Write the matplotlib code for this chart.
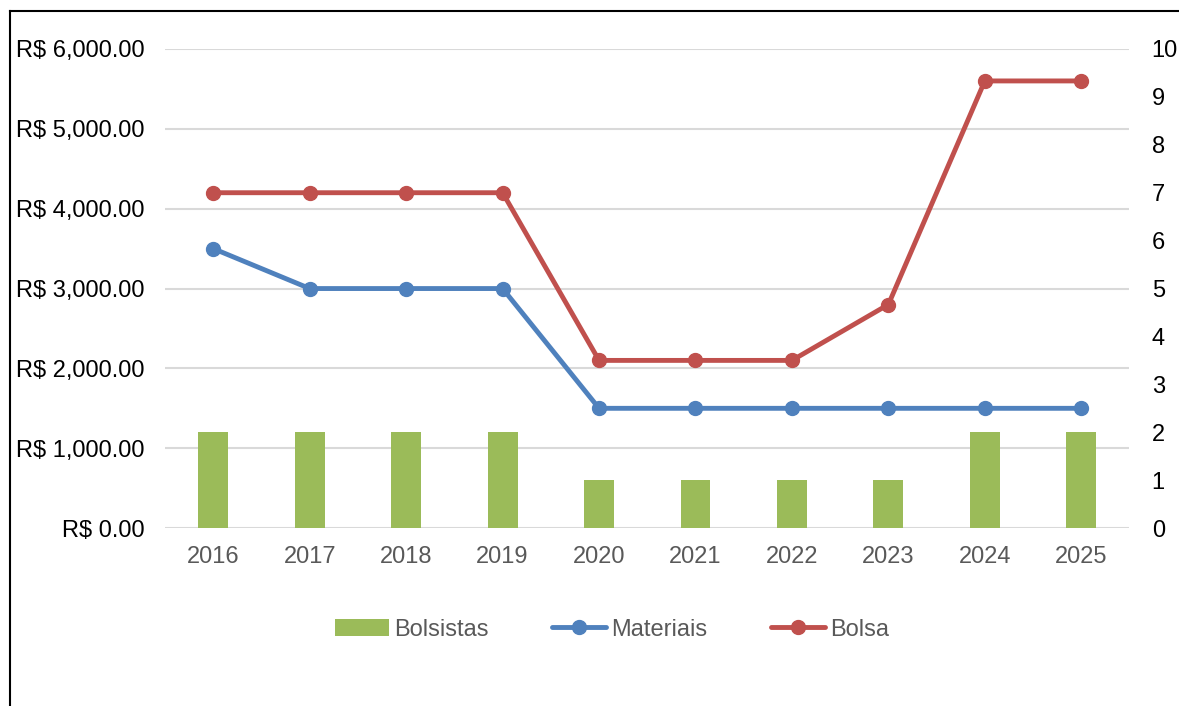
import matplotlib.pyplot as plt
from matplotlib.lines import Line2D
from matplotlib.ticker import FuncFormatter
import numpy as np

plt.rcParams['font.family'] = ['Liberation Sans', 'DejaVu Sans']

anos = ['2016', '2017', '2018', '2019', '2020', '2021', '2022', '2023', '2024', '2025']
bolsistas = [2, 2, 2, 2, 1, 1, 1, 1, 2, 2]
materiais = [3500, 3000, 3000, 3000, 1500, 1500, 1500, 1500, 1500, 1500]
bolsa = [4200, 4200, 4200, 4200, 2100, 2100, 2100, 2800, 5600, 5600]

verde = '#9BBB59'
azul = '#4F81BD'
vermelho = '#C0504D'
cinza_txt = '#595959'
cinza_grid = '#D9D9D9'
fs = 17

fig = plt.figure(figsize=(11.79, 7.06), dpi=100)
pos = [0.140, 0.252, 0.818, 0.6786]

# background axes only for the horizontal gridlines (money scale)
ax_bg = fig.add_axes(pos, zorder=0)
ax_bg.set_ylim(0, 6000)
ax_bg.set_xlim(0, 1)
ax_bg.set_yticks(range(0, 6001, 1000))
ax_bg.grid(axis='y', color=cinza_grid, lw=1.5)
ax_bg.tick_params(left=False, bottom=False, labelleft=False, labelbottom=False)
for s in ax_bg.spines.values():
    s.set_visible(False)

ax = fig.add_axes(pos, zorder=2)
ax2 = ax.twinx()
ax2.set_zorder(1)
ax.patch.set_visible(False)
ax2.patch.set_visible(False)

x = np.arange(len(anos))

# bars on the secondary (count) axis
ax2.bar(x, bolsistas, width=0.31, color=verde, label='Bolsistas')
ax2.set_ylim(0, 10)
ax2.set_yticks(range(0, 11))

# lines on the primary (money) axis
ax.plot(x, materiais, color=azul, lw=3.5, marker='o', ms=10, label='Materiais',
        solid_capstyle='round')
ax.plot(x, bolsa, color=vermelho, lw=3.5, marker='o', ms=10, label='Bolsa',
        solid_capstyle='round')
ax.set_ylim(0, 6000)
ax.set_yticks(range(0, 6001, 1000))
ax.yaxis.set_major_formatter(FuncFormatter(lambda v, p: f'R$ {v:,.2f}'))
ax.set_xlim(-0.5, len(anos) - 0.5)
ax.set_xticks(x)
ax.set_xticklabels(anos)

for a in (ax, ax2):
    for s in a.spines.values():
        s.set_visible(False)
ax.tick_params(axis='y', length=0, pad=15, labelsize=fs, labelcolor='black')
ax.tick_params(axis='x', length=0, pad=13, labelsize=fs, labelcolor=cinza_txt)
ax2.tick_params(axis='y', length=0, pad=16, labelsize=fs, labelcolor='black')

# legend below the plot
h1, l1 = ax2.get_legend_handles_labels()
h2, l2 = ax.get_legend_handles_labels()
leg = fig.legend(h1 + h2, l1 + l2, loc='center', bbox_to_anchor=(0.519, 0.108),
                 ncol=3, frameon=False, fontsize=fs, handlelength=2.3,
                 handleheight=0.7, handletextpad=0.2, columnspacing=2.7)
for t in leg.get_texts():
    t.set_color(cinza_txt)

# chart frame
W, H = 1179, 706
fig.add_artist(Line2D([10 / W, 10 / W], [0, 1 - 11 / H], color='black', lw=1.5,
                      transform=fig.transFigure))
fig.add_artist(Line2D([10 / W, 1], [1 - 11 / H, 1 - 11 / H], color='black', lw=1.5,
                      transform=fig.transFigure))

fig.savefig('out.png', dpi=100)
